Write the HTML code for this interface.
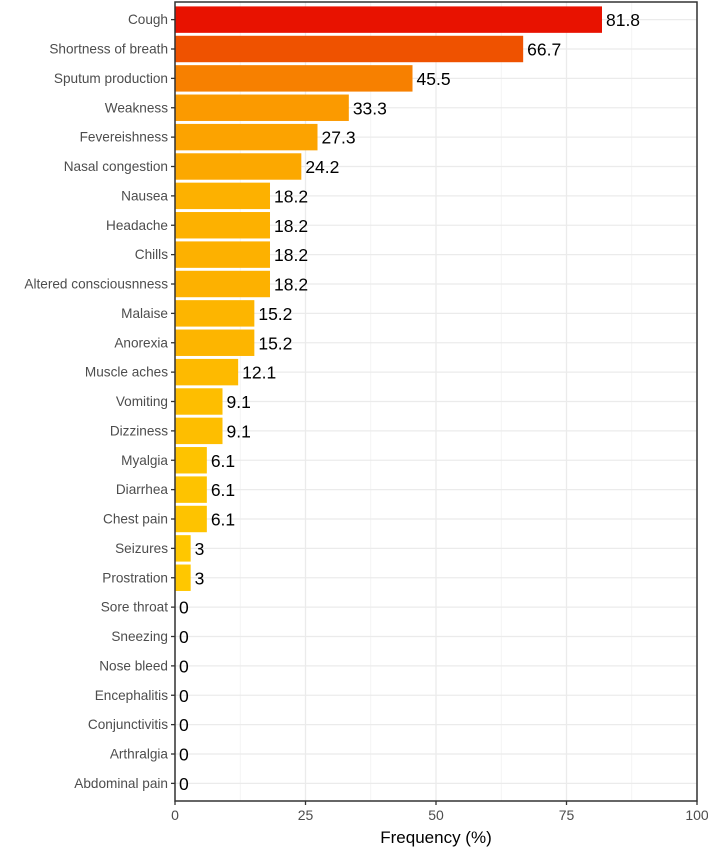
<!DOCTYPE html>
<html><head><meta charset="utf-8"><style>
body{margin:0;background:#fff;}
svg{display:block;font-family:"Liberation Sans",Arial,sans-serif;}
</style></head><body>
<svg id="chart" width="708" height="848" viewBox="0 0 708 848"></svg>
<script>
const categories=["Cough","Shortness of breath","Sputum production","Weakness","Fevereishness","Nasal congestion","Nausea","Headache","Chills","Altered consciousnness","Malaise","Anorexia","Muscle aches","Vomiting","Dizziness","Myalgia","Diarrhea","Chest pain","Seizures","Prostration","Sore throat","Sneezing","Nose bleed","Encephalitis","Conjunctivitis","Arthralgia","Abdominal pain"];
const values=[81.8,66.7,45.5,33.3,27.3,24.2,18.2,18.2,18.2,18.2,15.2,15.2,12.1,9.1,9.1,6.1,6.1,6.1,3,3,0,0,0,0,0,0,0];
const valueLabels=["81.8","66.7","45.5","33.3","27.3","24.2","18.2","18.2","18.2","18.2","15.2","15.2","12.1","9.1","9.1","6.1","6.1","6.1","3","3","0","0","0","0","0","0","0"];
const xTicks=[0,25,50,75,100];
const xTickLabels=["0","25","50","75","100"];

const NS="http://www.w3.org/2000/svg";
const svg=document.getElementById('chart');
const L=175,R=697,T=2,B=801;
const n=categories.length;
const step=(B-T)/(n+0.2);
const x=v=>L+(v/100)*(R-L);
const y=i=>T+step*(0.6+i);
function mk(tag,attrs,parent){const e=document.createElementNS(NS,tag);for(const k in attrs)e.setAttribute(k,attrs[k]);(parent||svg).appendChild(e);return e;}
const stops=[[0,[255,204,0]],[33.3,[251,154,0]],[66.7,[239,82,0]],[81.8,[232,18,0]]];
function color(v){for(let k=1;k<stops.length;k++){if(v<=stops[k][0]||k==stops.length-1){const a=stops[k-1],b=stops[k];let t=(v-a[0])/(b[0]-a[0]);t=Math.max(0,Math.min(1,t));const c=a[1].map((q,j)=>Math.round(q+(b[1][j]-q)*t));return `rgb(${c.join(',')})`;}}}

const grid=mk('g',{});


for(let v=12.5;v<100;v+=25){const l=mk('line',{x1:x(v),x2:x(v),y1:T,y2:B,stroke:'#f2f2f2','stroke-width':0.8},grid);}
xTicks.forEach(v=>{const l=mk('line',{x1:x(v),x2:x(v),y1:T,y2:B,stroke:'#ebebeb','stroke-width':1.3},grid);});
categories.forEach((c,i)=>{const l=mk('line',{x1:L,x2:R,y1:y(i),y2:y(i),stroke:'#ebebeb','stroke-width':1.3},grid);});

const bw=step*0.9;
categories.forEach((c,i)=>{
  const v=values[i];
  if(v>0){const r=mk('rect',{x:L,y:y(i)-bw/2,width:x(v)-L,height:bw,fill:color(v)});
  
  }
  const t=mk('text',{x:x(v)+4,y:y(i)+6.5,'font-size':17.5,fill:'#000'});
  t.textContent=valueLabels[i];
  
  
  const tk=mk('line',{x1:L-4,x2:L,y1:y(i),y2:y(i),stroke:'#333','stroke-width':1.3});
  
  
  const cl=mk('text',{x:L-7,y:y(i)+4.6,'font-size':13.6,fill:'#4d4d4d','text-anchor':'end'});
  cl.textContent=c;
  
  
});
const fr=mk('rect',{x:L,y:T,width:R-L,height:B-T,fill:'none',stroke:'#333','stroke-width':1.5});


xTicks.forEach((v,k)=>{
  const tk=mk('line',{x1:x(v),x2:x(v),y1:B,y2:B+4,stroke:'#333','stroke-width':1.3});
  
  
  const t=mk('text',{x:x(v),y:B+19,'font-size':14,fill:'#4d4d4d','text-anchor':'middle'});
  t.textContent=xTickLabels[k];
  
  
});
const xt=mk('text',{x:(L+R)/2,y:843,'font-size':17,fill:'#000','text-anchor':'middle'});
xt.textContent='Frequency (%)';


</script>
</body></html>
